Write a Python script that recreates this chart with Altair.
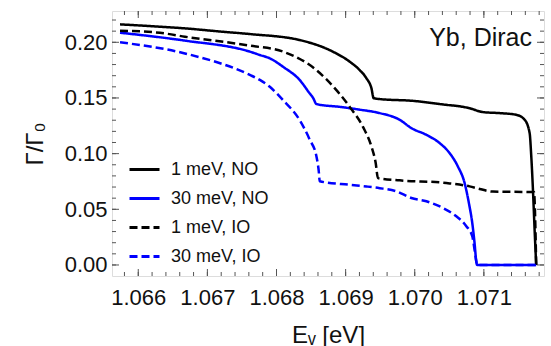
import altair as alt
import pandas as pd

# ---------------- data ----------------
E_NO1 = [1.065736, 1.066314, 1.066675, 1.067180, 1.067614, 1.068337, 1.068814, 1.069059,
         1.069204, 1.069301, 1.069373, 1.069406, 1.069493, 1.069974, 1.070457, 1.070650,
         1.070793, 1.070986, 1.071227, 1.071468, 1.071590, 1.071662, 1.071686, 1.071710,
         1.071734, 1.071757]
G_NO1 = [0.2161, 0.2140, 0.2125, 0.2097, 0.2074, 0.2020, 0.1916, 0.1826,
         0.1750, 0.1677, 0.1588, 0.1498, 0.1490, 0.1474, 0.1438, 0.1425,
         0.1408, 0.1373, 0.1364, 0.1349, 0.1304, 0.1185, 0.0975, 0.0677,
         0.0318, 0.0]

E_NO30 = [1.065736, 1.066675, 1.067614, 1.067759, 1.067903, 1.068095, 1.068337, 1.068481,
          1.068530, 1.068578, 1.068915, 1.069204, 1.069493, 1.069782, 1.069951, 1.070168,
          1.070360, 1.070504, 1.070624, 1.070721, 1.070783, 1.070832, 1.070865, 1.070890,
          1.070902, 1.071757]
G_NO30 = [0.2086, 0.2015, 0.1916, 0.1886, 0.1856, 0.1780, 0.1660, 0.1540,
          0.1500, 0.1445, 0.1420, 0.1395, 0.1364, 0.1304, 0.1229, 0.1169,
          0.1095, 0.1005, 0.0885, 0.0737, 0.0557, 0.0378, 0.0199, 0.0034,
          0.0, 0.0]

E_IO1 = [1.065736, 1.066314, 1.066675, 1.067614, 1.068095, 1.068578, 1.068867, 1.069059,
         1.069251, 1.069373, 1.069435, 1.069468, 1.069782, 1.070457, 1.070793, 1.070938,
         1.071130, 1.071725, 1.071757]
G_IO1 = [0.2104, 0.2085, 0.2050, 0.1970, 0.1916, 0.1750, 0.1570, 0.1420,
         0.1240, 0.1065, 0.0916, 0.0780, 0.0760, 0.0736, 0.0706, 0.0683,
         0.0659, 0.0655, 0.0]

E_IO30 = [1.065736, 1.066675, 1.067614, 1.067759, 1.067903, 1.068095, 1.068337, 1.068481,
          1.068578, 1.068610, 1.068626, 1.069059, 1.069301, 1.069493, 1.069734, 1.069951,
          1.070168, 1.070408, 1.070601, 1.070746, 1.070832, 1.070865, 1.070890, 1.070902,
          1.071757]
G_IO30 = [0.2000, 0.1900, 0.1707, 0.1662, 0.1600, 0.1480, 0.1300, 0.1125,
          0.0975, 0.0850, 0.0752, 0.0720, 0.0705, 0.0690, 0.0661, 0.0602,
          0.0572, 0.0512, 0.0437, 0.0348, 0.0258, 0.0139, 0.0034, 0.0,
          0.0]

SERIES = ["1 meV, NO", "30 meV, NO", "1 meV, IO", "30 meV, IO"]
COLORS = ["#000000", "#0000ff", "#000000", "#0000ff"]
DASHES = [[1, 0], [1, 0], [8, 4], [8, 4]]

X_MAJOR = [1.066, 1.067, 1.068, 1.069, 1.070, 1.071]
X_MINOR = [1.0658, 1.0660, 1.0662, 1.0664, 1.0666, 1.0668, 1.0670, 1.0672, 1.0674, 1.0676,
           1.0678, 1.0680, 1.0682, 1.0684, 1.0686, 1.0688, 1.0690, 1.0692, 1.0694, 1.0696,
           1.0698, 1.0700, 1.0702, 1.0704, 1.0706, 1.0708, 1.0710, 1.0712, 1.0714, 1.0716,
           1.0718]
Y_MAJOR = [0.00, 0.05, 0.10, 0.15, 0.20]
Y_MINOR = [0.00, 0.01, 0.02, 0.03, 0.04, 0.05, 0.06, 0.07, 0.08, 0.09, 0.10, 0.11,
           0.12, 0.13, 0.14, 0.15, 0.16, 0.17, 0.18, 0.19, 0.20, 0.21, 0.22]

X_DOMAIN = [1.06562, 1.07187]
Y_DOMAIN = [-0.0099, 0.2281]

# ---------------- build tables ----------------
rows = []
for name, es, gs in zip(SERIES, [E_NO1, E_NO30, E_IO1, E_IO30], [G_NO1, G_NO30, G_IO1, G_IO30]):
    for i, (e, g) in enumerate(zip(es, gs)):
        rows.append({"series": name, "E": e, "G": g, "i": i})
df = pd.DataFrame(rows)

W, H = 432, 265
FONT = "Liberation Sans"
FRAME = "#555555"

xs = alt.Scale(domain=X_DOMAIN, nice=False, zero=False)
ys = alt.Scale(domain=Y_DOMAIN, nice=False, zero=False)

legend = alt.Legend(title=None, orient="none", legendX=16, legendY=142,
                    symbolType="stroke", symbolSize=900,
                    symbolStrokeWidth=3, labelFont=FONT,
                    labelFontSize=18, labelColor="#111111",
                    labelOffset=10, rowPadding=3, padding=0)

lines = alt.Chart(df).mark_line(strokeWidth=2.5, clip=True, interpolate="monotone").encode(
    x=alt.X("E:Q", scale=xs, axis=alt.Axis(
        values=X_MAJOR, format=".3f", ticks=False, domain=False, grid=False,
        labelFontSize=22, labelFont=FONT, labelColor="#111111", labelPadding=11,
        title="Eᵥ [eV]", titleFont=FONT, titleFontSize=24, titleFontWeight="normal",
        titleColor="#111111", titlePadding=15)),
    y=alt.Y("G:Q", scale=ys, axis=alt.Axis(
        values=Y_MAJOR, format=".2f", ticks=False, domain=False, grid=False,
        labelFontSize=22, labelFont=FONT, labelColor="#111111", labelPadding=5,
        title="Γ/Γ₀", titleFont=FONT, titleFontSize=24, titleFontWeight="normal",
        titleColor="#111111", titlePadding=17)),
    color=alt.Color("series:N", scale=alt.Scale(domain=SERIES, range=COLORS), legend=legend),
    strokeDash=alt.StrokeDash("series:N", scale=alt.Scale(domain=SERIES, range=DASHES), legend=legend),
    order="i:Q",
)

def xticks(vals, length):
    d = pd.DataFrame({"v": vals})
    bottom = alt.Chart(d).mark_rule(color=FRAME, strokeWidth=1).encode(
        x=alt.X("v:Q", scale=xs), y=alt.value(H), y2=alt.value(H - length))
    top = alt.Chart(d).mark_rule(color=FRAME, strokeWidth=1).encode(
        x=alt.X("v:Q", scale=xs), y=alt.value(0), y2=alt.value(length))
    return [bottom, top]

def yticks(vals, length):
    d = pd.DataFrame({"v": vals})
    left = alt.Chart(d).mark_rule(color=FRAME, strokeWidth=1).encode(
        y=alt.Y("v:Q", scale=ys), x=alt.value(0), x2=alt.value(length))
    right = alt.Chart(d).mark_rule(color=FRAME, strokeWidth=1).encode(
        y=alt.Y("v:Q", scale=ys), x=alt.value(W), x2=alt.value(W - length))
    return [left, right]

label = alt.Chart(pd.DataFrame({"t": ["Yb, Dirac"]})).mark_text(
    align="right", baseline="alphabetic", font=FONT, fontSize=25, color="#111111"
).encode(text="t:N", x=alt.value(420), y=alt.value(35))

layers = xticks(X_MINOR, 4) + xticks(X_MAJOR, 7) + yticks(Y_MINOR, 4) + yticks(Y_MAJOR, 7) + [lines, label]

chart = alt.layer(*layers).properties(
    width=W, height=H,
    padding={"left": 112, "top": 11, "right": 7, "bottom": 70},
    autosize=alt.AutoSizeParams(type="none"),
).configure_view(stroke=FRAME, strokeWidth=1.2).configure(background="white")

chart.save("out.html", embed_options={"renderer": "svg", "actions": False})
